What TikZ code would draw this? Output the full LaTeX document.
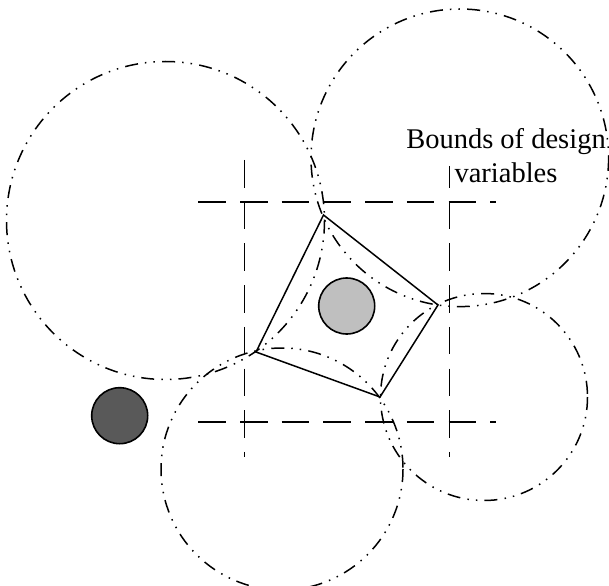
\documentclass[tikz,border=0pt]{standalone}
\usepackage{fontspec}
\setmainfont{Liberation Serif}
\usepackage{tikz}

\begin{document}
\begin{tikzpicture}[
  x=1pt, y=-1pt,
  font=\fontsize{28.5}{34.4}\selectfont,
  bound/.style={line width=1.6pt, dash pattern=on 27.6pt off 14.1pt},
  zone/.style={line width=1.5pt, dash pattern=on 13pt off 7pt on 1.5pt off 7pt on 1.5pt off 7.3pt},
  insert/.style={draw, line width=1.5pt, line join=miter},
  part/.style={draw, circle, line width=1.6pt, minimum size=56pt, inner sep=0pt}
]
\useasboundingbox (0,0) rectangle (609,585);
% corners of the insert
\coordinate (top) at (323.5,215);
\coordinate (rgt) at (438,305);
\coordinate (bot) at (380,397);
\coordinate (lft) at (256,352);
% bounds of design variables
\coordinate (hl) at (198.3,201.7);
\coordinate (hr) at (495.7,201.7);
\coordinate (bl) at (198.3,421.7);
\coordinate (br) at (495.7,421.7);
\coordinate (vl) at (244.3,160);
\coordinate (vlb) at (244.3,457);
\coordinate (vr) at (449.3,166);
\coordinate (vrb) at (449.3,457);
\draw[bound] (hl) -- (hr);
\draw[bound] (bl) -- (br);
\draw[bound] (vl) -- (vlb);
\draw[bound, dash phase=6pt] (vr) -- (vrb);
% tool circles
\draw[zone] (165.5,220.5) circle (159);
\draw[zone] (459.8,157.8) circle (148.8);
\draw[zone] (484,397) circle (103.5);
\draw[zone] (282,469) circle (121);
\draw[insert] (top) -- (rgt) -- (bot) -- (lft) -- cycle;
\node[part, fill=black!25] (inner) at (346.7,306) {};
\node[part, fill=black!65] (outer) at (119.7,415.7) {};
\node[align=center, anchor=base, inner sep=0pt] (label) at (506,182.7) {Bounds of design\\variables};
\end{tikzpicture}
\end{document}
